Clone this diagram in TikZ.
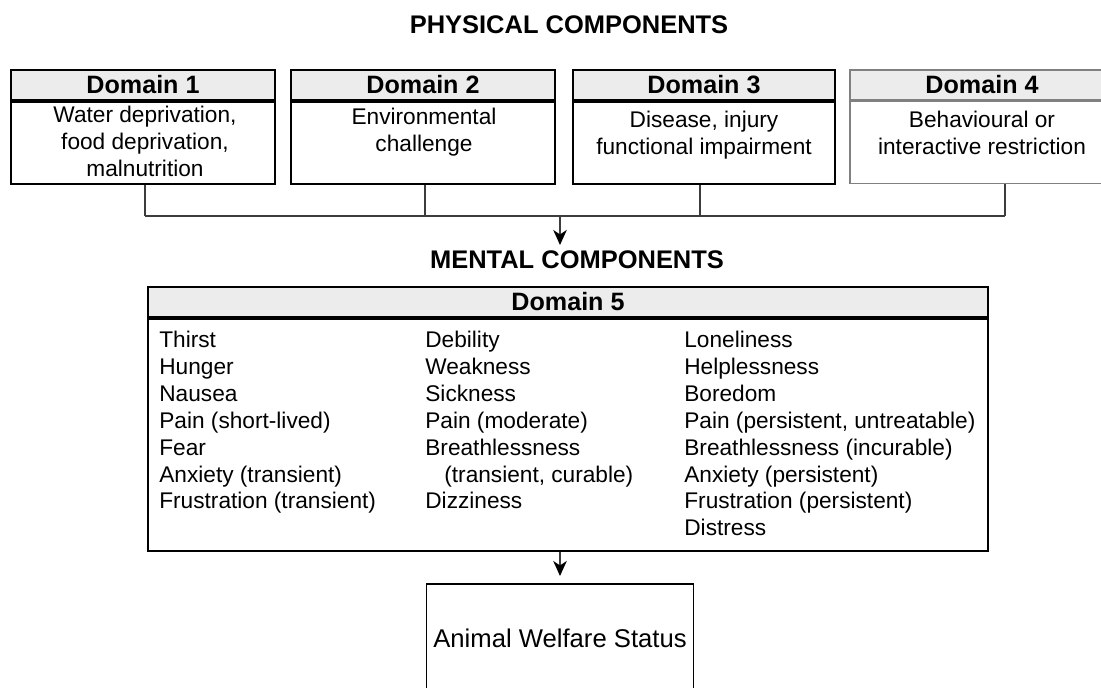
\documentclass[tikz,border=0pt]{standalone}
\usepackage{fontspec}
\setmainfont{Liberation Sans}
\usetikzlibrary{arrows.meta}
\definecolor{headgray}{RGB}{236,236,236}
\definecolor{linegray}{RGB}{60,60,60}
\tikzset{
  titletext/.style={font=\fontsize{14.5}{17}\selectfont\bfseries, inner sep=0pt},
  headbox/.style={draw, line width=1.1pt, fill=headgray, minimum height=0.6cm,
    inner sep=0pt, font=\fontsize{14.3}{17}\selectfont\bfseries},
  bodybox/.style={draw, line width=1.1pt, fill=white, inner sep=0pt},
  bodytext/.style={align=center, anchor=north, inner sep=0pt,
    font=\fontsize{12.9}{15.2}\selectfont},
  item/.style={anchor=base west, inner sep=0pt, font=\fontsize{12.9}{15.2}\selectfont},
  conn/.style={draw=linegray, line width=0.8pt},
  arr/.style={conn, -{Stealth[length=0.3cm, width=0.27cm, inset=0.09cm, color=black]}}
}
\begin{document}
\begin{tikzpicture}[x=0.02cm, y=-0.02cm]
  \useasboundingbox (0,0) rectangle (1101,688);

  % physical side
  \node[titletext, anchor=base] (phys) at (569,34) {PHYSICAL COMPONENTS};

  \node[headbox, minimum width=5.28cm] (h1) at (143,85) {Domain 1};
  \node[bodybox, minimum width=5.28cm, minimum height=1.64cm, anchor=north] (b1) at (h1.south) {};
  \node[bodytext] (t1) at (145,106) {Water deprivation,\\food deprivation,\\malnutrition};

  \node[headbox, minimum width=5.28cm] (h2) at (423,85) {Domain 2};
  \node[bodybox, minimum width=5.28cm, minimum height=1.64cm, anchor=north] (b2) at (h2.south) {};
  \node[bodytext] (t2) at (424,108) {Environmental\\challenge};

  \node[headbox, minimum width=5.24cm] (h3) at (704,85) {Domain 3};
  \node[bodybox, minimum width=5.24cm, minimum height=1.64cm, anchor=north] (b3) at (h3.south) {};
  \node[bodytext] (t3) at (704,111) {Disease, injury\\functional impairment};

  \node[headbox, minimum width=5.28cm, draw=gray, line width=0.7pt] (h4) at (982,85) {Domain 4};
  \node[bodybox, minimum width=5.28cm, minimum height=1.64cm, anchor=north, draw=gray, line width=0.7pt] (b4) at (h4.south) {};
  \node[bodytext] (t4) at (982,111) {Behavioural or\\interactive restriction};

  \coordinate (j1) at (145,216);
  \coordinate (j2) at (425,216);
  \coordinate (j3) at (700,216);
  \coordinate (j4) at (1005,216);
  \coordinate (ja) at (560,216);
  \coordinate (jb) at (560,245);

  \draw[conn] (b1.south -| j1) -- (j1);
  \draw[conn] (b2.south -| j2) -- (j2);
  \draw[conn] (b3.south -| j3) -- (j3);
  \draw[conn] (b4.south -| j4) -- (j4);
  \draw[conn] (j1) -- (j4);
  \draw[arr] (ja) -- (jb);

  % mental side
  \node[titletext, anchor=base] (ment) at (577,269) {MENTAL COMPONENTS};

  \node[headbox, minimum width=16.8cm] (h5) at (568,302) {Domain 5};
  \node[bodybox, minimum width=16.8cm, minimum height=4.64cm, anchor=north] (b5) at (h5.south) {};

  \foreach \txt [count=\i] in {Thirst, Hunger, Nausea, Pain (short-lived), Fear,
      Anxiety (transient), Frustration (transient)}
    \node[item] (p\i) at (159,{348+26.8*(\i-1)}) {\txt};

  \foreach \txt [count=\i] in {Debility, Weakness, Sickness, Pain (moderate), Breathlessness,
      {\hspace*{0.38cm}(transient, curable)}, Dizziness}
    \node[item] (q\i) at (425,{348+26.8*(\i-1)}) {\txt};

  \foreach \txt [count=\i] in {Loneliness, Helplessness, Boredom, {Pain (persistent, untreatable)},
      Breathlessness (incurable), Anxiety (persistent), Frustration (persistent), Distress}
    \node[item] (r\i) at (684,{348+26.8*(\i-1)}) {\txt};

  % outcome
  \node[draw, line width=1pt, minimum width=5.34cm, minimum height=2.34cm, anchor=north,
    text depth=4.5pt, font=\fontsize{14.6}{17}\selectfont] (wel) at (560,583) {Animal Welfare Status};

  \draw[arr, shorten >=0.14cm] (b5.south -| wel.north) -- (wel.north);
\end{tikzpicture}
\end{document}
